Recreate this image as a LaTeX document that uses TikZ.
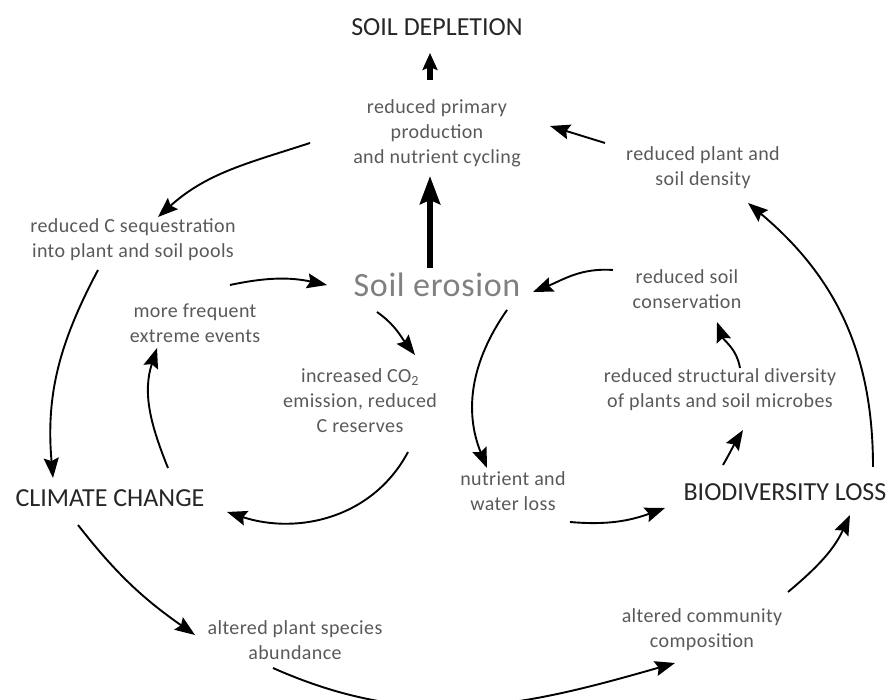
\documentclass[tikz,border=0pt]{standalone}
\usepackage{fontspec}
\setmainfont{Carlito}
\usetikzlibrary{arrows.meta,calc}
\begin{document}
\begin{tikzpicture}[x=1pt,y=1pt,
  lbl/.style={font=\fontsize{20}{25}\selectfont\addfontfeature{LetterSpace=2}, text=black!65, align=center, inner sep=0pt},
  title/.style={font=\fontsize{26}{30}\selectfont, text=black!85, inner sep=0pt},
  arr/.style={-{Stealth[length=20pt,width=15pt,inset=3pt]}, line width=1.9pt},
  thickarr/.style={-{Stealth[length=17pt,width=15pt,inset=3pt]}, line width=5.5pt},
  bigarr/.style={-{Stealth[length=28pt,width=20pt,inset=4pt]}, line width=6.5pt}]
\useasboundingbox (0,0) rectangle (891,700);
\node[title] (depl) at (437,673) {SOIL DEPLETION};
\node[lbl] (prim) at (437,567) {reduced primary\\production\\and nutrient cycling};
\node[lbl] (plant) at (703,532) {reduced plant and\\soil density};
\node[lbl] (seq) at (133,460) {reduced C sequestration\\into plant and soil pools};
\node[font=\fontsize{34}{40}\selectfont\addfontfeature{LetterSpace=2}, text=black!50, inner sep=0pt] (eros) at (437,415) {Soil erosion};
\node[lbl] (freq) at (195,377) {more frequent\\extreme events};
\node[lbl] (co2) at (360,299) {increased CO\textsubscript{2}\\emission, reduced\\C reserves};
\node[title] (clim) at (110,202) {CLIMATE CHANGE};
\node[lbl] (nut) at (513,209) {nutrient and\\water loss};
\node[title] (biod) at (785,208) {BIODIVERSITY LOSS};
\node[lbl] (struct) at (720,310) {reduced structural diversity\\of plants and soil microbes};
\node[lbl] (cons) at (687,411) {reduced soil\\conservation};
\node[lbl] (abun) at (295,60) {altered plant species\\abundance};
\node[lbl] (comm) at (702,70) {altered community\\composition};

\draw[thickarr] ($(prim)+(-7,53)$) -- ($(depl)+(-7,-26)$);
\draw[bigarr] ($(eros)+(-7,17)$) -- ($(prim)+(-7,-43)$);
\draw[arr] ($(plant)+(-98,25)$) -- ($(prim)+(113,7)$);
\draw[arr] ($(prim)+(-127,-10)$) to[out=198,in=42] ($(seq)+(25,23)$);
\draw[arr] ($(freq)+(35,38)$) to[out=12,in=168] ($(eros)+(-110,0)$);
\draw[arr] ($(eros)+(-60,-27)$) to[out=-35,in=128] ($(co2)+(55,46)$);
\draw[arr] ($(co2)+(48,-51)$) to[out=-118,in=-18] ($(clim)+(117,-14)$);
\draw[arr] ($(seq)+(-35,-30)$) to[out=-118,in=95] ($(clim)+(-57,20)$);
\draw[arr] ($(clim)+(58,30)$) to[out=112,in=-108] ($(freq)+(-38,-25)$);
\draw[arr] ($(clim)+(-32,-27)$) to[out=-52,in=145] ($(abun)+(-100,5)$);
\draw[arr] ($(abun)+(-22,-28)$) to[out=-24,in=196] ($(comm)+(-27,-33)$);
\draw[arr] ($(comm)+(86,38)$) to[out=40,in=-115] ($(biod)+(65,-23)$);
\draw[arr] ($(nut)+(57,-31)$) to[out=-5,in=200] ($(biod)+(-120,-16)$);
\draw[arr] ($(eros)+(70,-25)$) to[out=-125,in=112] ($(nut)+(-26,23)$);
\draw[arr] ($(biod)+(-62,27)$) to[out=60,in=-122] ($(struct)+(23,-40)$);
\draw[arr] ($(struct)+(20,22)$) to[out=100,in=-70] ($(cons)+(30,-33)$);
\draw[arr] ($(cons)+(-74,19)$) to[out=176,in=22] ($(eros)+(96,-7)$);
\draw[arr] ($(biod)+(88,25)$) to[out=90,in=-40] ($(plant)+(45,-35)$);
\end{tikzpicture}
\end{document}
